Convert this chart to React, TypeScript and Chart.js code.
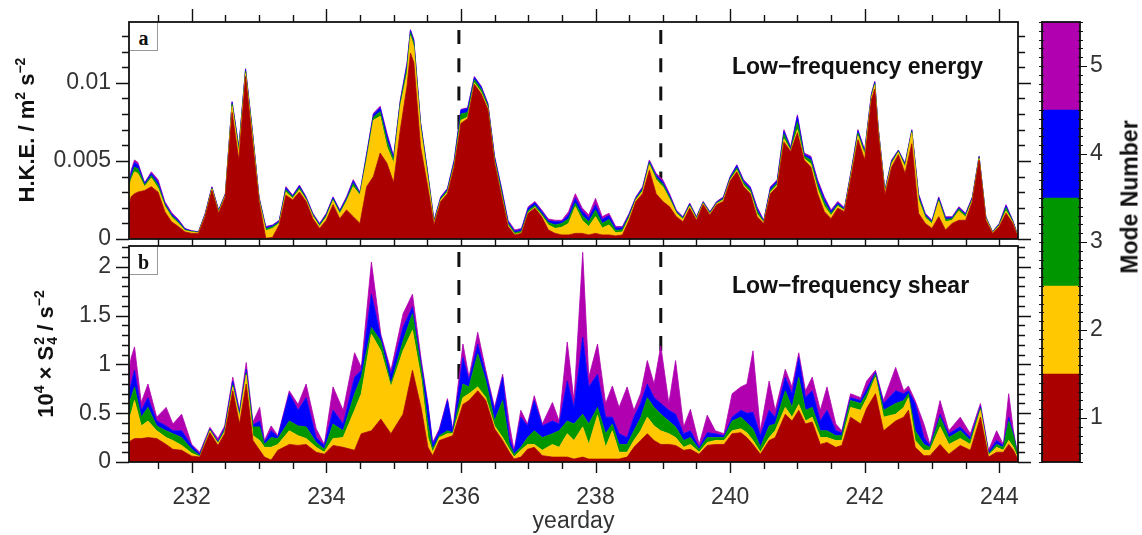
import React, { useEffect, useRef } from "react";
import { Chart, registerables } from "chart.js";

Chart.register(...registerables);

const SANS = '"Liberation Sans", Arial, Helvetica, sans-serif';
const SERIF = '"Liberation Serif", "DejaVu Serif", serif';

// ---------- shared axis data ----------
const X_MIN = 231.068;
const X_MAX = 244.278;
const dayTickValues = [232, 234, 236, 238, 240, 242, 244];
const dayTickLabels = ["232", "234", "236", "238", "240", "242", "244"];
const eventDays = [235.97, 238.97];

const modeNumbers = [1, 2, 3, 4, 5];
const modeLabels = ["1", "2", "3", "4", "5"];
const modeColors = ["#aa0000", "#ffc800", "#009600", "#0000ff", "#b000b0"];

// ---------- panel a: low-frequency energy (cumulative tops, units 1e-3 m2 s-2) ----------
const hkeTickValues = [0, 0.005, 0.01];
const hkeTickLabels = ["0", "0.005", "0.01"];
const HKE_MAX = 0.01389;

const hkeDays = [
  231.06, 231.1, 231.15, 231.2, 231.3, 231.4, 231.5, 231.6, 231.7, 231.8,
  231.9, 232.0, 232.1, 232.2, 232.3, 232.4, 232.5, 232.6, 232.7, 232.8,
  232.9, 233.0, 233.1, 233.2, 233.3, 233.4, 233.5, 233.6, 233.7, 233.8,
  233.9, 234.0, 234.1, 234.2, 234.3, 234.4, 234.5, 234.6, 234.7, 234.8,
  234.9, 235.0, 235.1, 235.2, 235.25, 235.3, 235.4, 235.5, 235.6, 235.7,
  235.8, 235.9, 236.0, 236.1, 236.2, 236.3, 236.4, 236.5, 236.6, 236.7,
  236.8, 236.9, 237.0, 237.1, 237.2, 237.3, 237.4, 237.5, 237.6, 237.7,
  237.8, 237.9, 238.0, 238.1, 238.2, 238.3, 238.4, 238.5, 238.6, 238.7,
  238.8, 238.9, 239.0, 239.1, 239.2, 239.3, 239.4, 239.5, 239.6, 239.7,
  239.8, 239.9, 240.0, 240.1, 240.2, 240.3, 240.4, 240.5, 240.6, 240.7,
  240.8, 240.9, 241.0, 241.1, 241.2, 241.3, 241.4, 241.5, 241.6, 241.7,
  241.8, 241.9, 242.0, 242.1, 242.15, 242.2, 242.3, 242.4, 242.5, 242.6,
  242.7, 242.8, 242.9, 243.0, 243.1, 243.2, 243.3, 243.4, 243.5, 243.6,
  243.7, 243.8, 243.9, 244.0, 244.1, 244.2, 244.28,
];
const hkeTop1 = [
  2.0, 2.7, 2.9, 3.0, 3.1, 3.35, 3.0, 1.75, 1.1, 0.8,
  0.45, 0.36, 0.36, 1.43, 3.1, 1.65, 2.7, 8.1, 5.06, 10.4,
  6.35, 2.4, 0.05, 0.1, 0.9, 2.8, 2.5, 3.0, 2.4, 1.3,
  0.68, 1.2, 2.2, 1.3, 1.86, 1.43, 1.0, 3.35, 4.0, 5.5,
  4.85, 3.6, 7.0, 9.8, 11.9, 11.3, 5.9, 3.5, 0.9, 2.4,
  2.9, 4.6, 7.4, 7.7, 9.9, 9.3, 8.3, 4.85, 2.8, 0.8,
  0.26, 0.36, 1.65, 1.97, 1.43, 0.58, 0.36, 0.26, 0.26, 0.36,
  0.36, 0.26, 0.36, 0.26, 0.26, 0.2, 0.26, 1.2, 2.4, 2.9,
  4.4, 2.9, 2.4, 2.07, 1.43, 1.1, 1.97, 1.2, 2.2, 1.54,
  2.2, 2.4, 3.7, 4.3, 3.35, 2.9, 1.43, 1.0, 2.9, 3.35,
  6.2, 5.6, 6.8, 5.06, 4.6, 2.9, 1.75, 1.3, 1.97, 1.75,
  4.0, 6.35, 5.06, 8.9, 9.6, 6.8, 2.8, 4.6, 5.4, 4.2,
  6.1, 1.65, 1.0, 0.68, 1.43, 0.58, 1.0, 1.2, 1.2, 2.4,
  5.06, 1.2, 0.36, 0.8, 1.65, 1.0, 0.05,
];
const hkeTop2 = [
  3.0, 3.8, 4.3, 4.2, 3.35, 3.9, 3.25, 2.1, 1.4, 1.0,
  0.53, 0.45, 0.4, 1.5, 3.2, 1.72, 2.78, 8.5, 5.5, 10.6,
  6.7, 2.5, 0.53, 0.68, 1.0, 3.0, 2.6, 3.15, 2.5, 1.45,
  0.8, 1.4, 2.45, 1.6, 2.4, 3.35, 2.8, 5.06, 7.6, 7.85,
  5.9, 4.85, 8.5, 10.6, 13.0, 12.3, 7.1, 4.1, 1.0, 2.5,
  3.0, 4.7, 7.6, 7.8, 10.0, 9.4, 8.4, 4.95, 2.9, 0.88,
  0.3, 0.4, 1.7, 2.03, 1.5, 0.9, 0.68, 0.75, 1.0, 2.07,
  1.2, 0.8, 1.43, 0.7, 0.9, 0.4, 0.45, 1.35, 2.5, 3.05,
  4.75, 3.8, 3.35, 2.55, 1.65, 1.25, 2.1, 1.28, 2.27, 1.6,
  2.26, 2.5, 3.78, 4.4, 3.45, 3.0, 1.6, 1.05, 3.0, 3.45,
  6.4, 5.65, 7.0, 5.15, 4.8, 3.2, 2.1, 1.5, 2.1, 1.82,
  4.15, 6.6, 5.4, 9.05, 9.85, 7.0, 2.95, 4.8, 5.55, 4.6,
  6.8, 2.5, 1.35, 0.98, 2.4, 1.1, 1.2, 1.8, 1.4, 2.5,
  5.15, 1.3, 0.4, 0.86, 1.8, 1.07, 0.08,
];
const hkeTop3 = [
  3.15, 4.0, 4.6, 4.5, 3.45, 4.05, 3.45, 2.2, 1.5, 1.1,
  0.58, 0.48, 0.43, 1.55, 3.25, 1.78, 2.83, 8.65, 5.7, 10.75,
  6.85, 2.6, 0.65, 0.78, 1.08, 3.15, 2.68, 3.28, 2.58, 1.53,
  0.88, 1.5, 2.55, 1.7, 2.5, 3.55, 2.88, 5.25, 7.8, 8.15,
  6.3, 5.05, 8.7, 10.95, 13.2, 12.55, 7.3, 4.3, 1.08, 2.58,
  3.1, 4.85, 8.0, 8.1, 10.2, 9.6, 8.55, 5.1, 3.1, 1.0,
  0.4, 0.5, 1.82, 2.15, 1.62, 1.05, 0.9, 1.0, 1.3, 2.3,
  1.5, 1.1, 1.85, 1.0, 1.25, 0.55, 0.6, 1.48, 2.58, 3.15,
  4.88, 3.95, 3.5, 2.68, 1.73, 1.32, 2.18, 1.34, 2.32, 1.66,
  2.31, 2.58, 3.87, 4.55, 3.6, 3.15, 1.8, 1.1, 3.12, 3.58,
  6.7, 5.72, 7.5, 5.3, 5.05, 3.45, 2.35, 1.63, 2.2, 1.88,
  4.25, 6.78, 5.52, 9.15, 9.95, 7.07, 3.03, 4.92, 5.62, 4.7,
  6.88, 2.68, 1.48, 1.07, 2.52, 1.25, 1.3, 1.92, 1.52, 2.58,
  5.22, 1.36, 0.43, 0.92, 2.0, 1.12, 0.1,
];
const hkeTop4 = [
  3.25, 4.25, 4.9, 4.75, 3.55, 4.2, 3.65, 2.3, 1.6, 1.2,
  0.64, 0.51, 0.45, 1.6, 3.3, 1.83, 2.88, 8.75, 5.85, 10.85,
  6.95, 2.65, 0.75, 0.86, 1.15, 3.28, 2.75, 3.4, 2.65, 1.6,
  0.95, 1.6, 2.65, 1.8, 2.62, 3.72, 2.95, 5.42, 7.98, 8.4,
  6.65, 5.22, 8.85, 11.2, 13.35, 12.7, 7.45, 4.42, 1.15, 2.66,
  3.2, 5.0, 8.25, 8.35, 10.35, 9.75, 8.65, 5.25, 3.28, 1.12,
  0.5, 0.62, 1.98, 2.32, 1.78, 1.18, 1.1, 1.12, 1.55, 2.6,
  1.8, 1.35, 2.2, 1.25, 1.5, 0.7, 0.72, 1.58, 2.65, 3.28,
  4.98, 4.08, 3.65, 2.8, 1.8, 1.38, 2.25, 1.4, 2.37, 1.71,
  2.36, 2.65, 3.95, 4.7, 3.72, 3.28, 1.97, 1.16, 3.28, 3.72,
  6.9, 5.82, 7.85, 5.43, 5.22, 3.68, 2.58, 1.77, 2.32, 1.95,
  4.35, 6.93, 5.63, 9.25, 10.05, 7.15, 3.1, 5.0, 5.67, 4.8,
  6.95, 2.82, 1.58, 1.14, 2.63, 1.36, 1.38, 2.0, 1.6, 2.65,
  5.27, 1.4, 0.45, 0.97, 2.13, 1.17, 0.13,
];
const hkeTotal = [
  3.3, 4.4, 5.06, 4.9, 3.6, 4.3, 3.8, 2.4, 1.7, 1.26,
  0.68, 0.53, 0.47, 1.65, 3.35, 1.86, 2.9, 8.8, 5.9, 10.9,
  7.0, 2.7, 0.8, 0.9, 1.2, 3.35, 2.8, 3.45, 2.7, 1.65,
  1.0, 1.65, 2.7, 1.86, 2.7, 3.8, 3.0, 5.5, 8.05, 8.5,
  6.8, 5.3, 8.9, 11.3, 13.4, 12.8, 7.5, 4.5, 1.2, 2.7,
  3.25, 5.06, 8.3, 8.4, 10.4, 9.8, 8.7, 5.3, 3.35, 1.2,
  0.58, 0.68, 2.07, 2.4, 1.86, 1.28, 1.2, 1.2, 1.75, 2.9,
  2.0, 1.54, 2.6, 1.43, 1.65, 0.8, 0.8, 1.65, 2.7, 3.35,
  5.06, 4.2, 3.8, 2.9, 1.86, 1.43, 2.3, 1.43, 2.4, 1.75,
  2.4, 2.7, 4.0, 4.75, 3.8, 3.35, 2.07, 1.2, 3.35, 3.8,
  7.0, 5.9, 7.95, 5.5, 5.3, 3.8, 2.7, 1.86, 2.4, 2.0,
  4.4, 7.0, 5.7, 9.3, 10.1, 7.2, 3.14, 5.06, 5.7, 4.85,
  7.0, 2.9, 1.65, 1.2, 2.7, 1.43, 1.43, 2.07, 1.65, 2.7,
  5.3, 1.43, 0.47, 1.0, 2.2, 1.2, 0.15,
];

// ---------- panel b: low-frequency shear (cumulative tops, units 1e-4 s-2) ----------
const shearTickValues = [0, 0.5, 1, 1.5, 2];
const shearTickLabels = ["0", "0.5", "1", "1.5", "2"];
const SHEAR_MAX = 2.215;

const shearDays = [
  231.06, 231.1, 231.15, 231.25, 231.35, 231.48, 231.62, 231.72, 231.85, 232.0,
  232.12, 232.27, 232.39, 232.49, 232.61, 232.71, 232.81, 232.91, 233.01, 233.08,
  233.18, 233.28, 233.45, 233.58, 233.7, 233.85, 233.97, 234.1, 234.25, 234.42,
  234.52, 234.67, 234.81, 234.96, 235.14, 235.28, 235.41, 235.51, 235.58, 235.68,
  235.8, 235.88, 236.03, 236.12, 236.25, 236.37, 236.5, 236.62, 236.72, 236.79,
  236.89, 236.99, 237.09, 237.21, 237.36, 237.46, 237.58, 237.68, 237.81, 237.9,
  238.03, 238.15, 238.25, 238.35, 238.47, 238.57, 238.67, 238.77, 238.87, 238.97,
  239.09, 239.19, 239.31, 239.41, 239.54, 239.66, 239.78, 239.91, 240.03, 240.16,
  240.25, 240.34, 240.45, 240.58, 240.67, 240.82, 240.92, 241.02, 241.12, 241.22,
  241.34, 241.44, 241.57, 241.66, 241.79, 241.94, 242.03, 242.16, 242.28, 242.46,
  242.58, 242.65, 242.75, 242.88, 242.97, 243.12, 243.25, 243.42, 243.57, 243.72,
  243.84, 243.96, 244.06, 244.14, 244.21, 244.28,
];
const shearTop1 = [
  0.2, 0.22, 0.24, 0.24, 0.25, 0.24, 0.18, 0.13, 0.12, 0.06,
  0.05, 0.3, 0.17, 0.29, 0.73, 0.39, 0.8, 0.22, 0.12, 0.05,
  0.02, 0.12, 0.18, 0.17, 0.18, 0.1, 0.08, 0.17, 0.15, 0.12,
  0.29, 0.32, 0.44, 0.29, 0.49, 0.94, 0.55, 0.15, 0.065, 0.22,
  0.25, 0.27, 0.59, 0.63, 0.73, 0.63, 0.34, 0.22, 0.1, 0.03,
  0.05, 0.13, 0.15, 0.065, 0.05, 0.05, 0.05, 0.03, 0.05, 0.03,
  0.03, 0.03, 0.03, 0.03, 0.05, 0.15, 0.22, 0.29, 0.22, 0.18,
  0.18, 0.17, 0.12, 0.13, 0.08, 0.17, 0.18, 0.18, 0.29, 0.3,
  0.25, 0.18, 0.08, 0.22, 0.25, 0.49, 0.42, 0.53, 0.39, 0.41,
  0.18, 0.2, 0.15, 0.17, 0.46, 0.39, 0.55, 0.7, 0.32, 0.42,
  0.46, 0.53, 0.15, 0.065, 0.065, 0.18, 0.08, 0.17, 0.12, 0.46,
  0.05, 0.1, 0.1, 0.18, 0.12, 0.02,
];
const shearTop2 = [
  0.45, 0.5, 0.63, 0.37, 0.42, 0.32, 0.25, 0.22, 0.17, 0.09,
  0.055, 0.32, 0.19, 0.31, 0.77, 0.46, 0.89, 0.27, 0.22, 0.15,
  0.15, 0.18, 0.32, 0.27, 0.24, 0.15, 0.1, 0.24, 0.25, 0.53,
  0.7, 1.31, 1.14, 0.77, 1.14, 1.35, 0.85, 0.25, 0.1, 0.25,
  0.29, 0.29, 0.66, 0.7, 0.77, 0.66, 0.37, 0.25, 0.13, 0.05,
  0.12, 0.18, 0.18, 0.12, 0.18, 0.15, 0.29, 0.22, 0.36, 0.18,
  0.48, 0.15, 0.32, 0.1, 0.1, 0.22, 0.32, 0.46, 0.37, 0.32,
  0.29, 0.25, 0.15, 0.18, 0.1, 0.2, 0.22, 0.22, 0.32, 0.34,
  0.3, 0.22, 0.1, 0.25, 0.32, 0.56, 0.46, 0.59, 0.42, 0.46,
  0.25, 0.25, 0.22, 0.22, 0.56, 0.53, 0.65, 0.87, 0.46, 0.49,
  0.56, 0.66, 0.22, 0.12, 0.12, 0.36, 0.18, 0.24, 0.18, 0.53,
  0.07, 0.15, 0.12, 0.22, 0.15, 0.03,
];
const shearTop3 = [
  0.6, 0.66, 0.77, 0.46, 0.56, 0.37, 0.32, 0.29, 0.25, 0.13,
  0.065, 0.33, 0.2, 0.33, 0.79, 0.48, 0.91, 0.36, 0.36, 0.18,
  0.25, 0.24, 0.42, 0.37, 0.36, 0.2, 0.13, 0.39, 0.32, 0.7,
  0.87, 1.38, 1.24, 0.8, 1.24, 1.52, 0.95, 0.39, 0.13, 0.27,
  0.32, 0.3, 0.8, 0.77, 1.11, 0.83, 0.42, 0.63, 0.18, 0.08,
  0.15, 0.25, 0.32, 0.25, 0.29, 0.32, 0.42, 0.39, 0.49, 0.39,
  0.56, 0.29, 0.39, 0.18, 0.18, 0.32, 0.45, 0.66, 0.56, 0.49,
  0.42, 0.36, 0.22, 0.25, 0.13, 0.25, 0.25, 0.25, 0.42, 0.46,
  0.4, 0.34, 0.15, 0.37, 0.39, 0.73, 0.56, 0.87, 0.53, 0.56,
  0.32, 0.32, 0.27, 0.27, 0.63, 0.6, 0.7, 0.9, 0.53, 0.6,
  0.63, 0.7, 0.32, 0.18, 0.15, 0.46, 0.25, 0.32, 0.22, 0.55,
  0.08, 0.18, 0.15, 0.42, 0.27, 0.04,
];
const shearTop4 = [
  0.72, 0.8, 0.94, 0.53, 0.66, 0.42, 0.37, 0.32, 0.32, 0.17,
  0.08, 0.34, 0.21, 0.35, 0.83, 0.51, 0.95, 0.38, 0.42, 0.2,
  0.32, 0.26, 0.7, 0.53, 0.66, 0.25, 0.17, 0.53, 0.39, 0.87,
  0.94, 1.72, 1.28, 0.9, 1.38, 1.59, 1.0, 0.58, 0.18, 0.32,
  0.63, 0.31, 1.07, 0.84, 1.21, 0.9, 0.53, 0.87, 0.25, 0.1,
  0.46, 0.37, 0.63, 0.37, 0.42, 0.39, 0.83, 0.56, 1.28, 0.77,
  0.9, 0.46, 0.46, 0.29, 0.25, 0.46, 0.6, 0.8, 0.66, 0.6,
  0.53, 0.49, 0.29, 0.32, 0.15, 0.3, 0.29, 0.27, 0.46, 0.53,
  0.5, 0.51, 0.27, 0.53, 0.46, 0.87, 0.7, 1.07, 0.66, 0.73,
  0.42, 0.53, 0.32, 0.3, 0.66, 0.63, 0.75, 0.92, 0.6, 0.73,
  0.7, 0.73, 0.6, 0.25, 0.17, 0.49, 0.29, 0.36, 0.25, 0.57,
  0.1, 0.22, 0.17, 0.46, 0.29, 0.045,
];
const shearTotal = [
  0.9, 1.07, 1.18, 0.61, 0.8, 0.46, 0.56, 0.39, 0.49, 0.18,
  0.1, 0.355, 0.24, 0.37, 0.87, 0.53, 1.02, 0.41, 0.56, 0.22,
  0.37, 0.27, 0.73, 0.59, 0.8, 0.34, 0.18, 0.77, 0.53, 1.12,
  0.97, 2.05, 1.31, 0.94, 1.52, 1.72, 1.05, 0.6, 0.2, 0.34,
  0.65, 0.33, 1.21, 0.87, 1.33, 0.94, 0.56, 0.9, 0.39, 0.12,
  0.53, 0.39, 0.68, 0.39, 0.61, 0.42, 1.23, 0.63, 2.15, 0.87,
  1.21, 0.6, 0.78, 0.56, 0.77, 0.53, 0.7, 1.04, 0.8, 1.19,
  0.6, 1.04, 0.36, 0.54, 0.18, 0.48, 0.32, 0.29, 0.7, 0.77,
  0.8, 1.14, 0.32, 0.83, 0.53, 0.95, 0.77, 1.12, 0.73, 0.87,
  0.53, 0.77, 0.39, 0.32, 0.7, 0.66, 0.83, 0.94, 0.63, 0.97,
  0.73, 0.78, 0.63, 0.39, 0.18, 0.63, 0.32, 0.46, 0.29, 0.6,
  0.12, 0.32, 0.18, 0.7, 0.32, 0.05,
];

// ---------- helpers ----------
function layerDatasets(days: number[], tops: number[][], factor: number) {
  return tops.map((vals, i) => ({
    label: "Mode " + modeLabels[i],
    data: days.map((d, j) => ({ x: d, y: vals[j] * factor })),
    backgroundColor: modeColors[i],
    borderColor: modeColors[i],
    borderWidth: 0.8,
    pointRadius: 0,
    tension: 0,
    fill: i === 0 ? "origin" : "-1",
  }));
}

function zeroPad(s: any) {
  s.paddingTop = 0;
  s.paddingBottom = 0;
  s.paddingLeft = 0;
  s.paddingRight = 0;
}

function yAxis(max: number, values: number[], labels: string[]) {
  return {
    type: "linear",
    position: "left",
    min: 0,
    max,
    afterFit: (s: any) => {
      s.width = 129;
      zeroPad(s);
    },
    afterBuildTicks: (s: any) => {
      s.ticks = values.map((value) => ({ value }));
    },
    grid: { display: false, drawTicks: false },
    border: { display: false },
    ticks: {
      padding: 18,
      color: "#333",
      font: { size: 23, family: SANS },
      callback: (_v: any, i: number) => labels[i],
    },
  };
}

function eventLinePlugin(startOffset: number, dash: number, gap: number) {
  return {
    id: "eventLines",
    beforeDatasetsDraw(chart: any) {
      const { ctx, chartArea: a, scales } = chart;
      ctx.save();
      ctx.strokeStyle = "#111";
      ctx.lineWidth = 3;
      ctx.setLineDash([dash, gap]);
      ctx.beginPath();
      for (const d of eventDays) {
        const px = scales.x.getPixelForValue(d);
        ctx.moveTo(px, a.top + startOffset);
        ctx.lineTo(px, a.bottom);
      }
      ctx.stroke();
      ctx.restore();
    },
  };
}

function framePlugin(o: { yMinor: number; yMajor: number; yMax: number; top: number[]; bottom: number[] }) {
  return {
    id: "frameTicks",
    afterDraw(chart: any) {
      const { ctx, chartArea: a, scales } = chart;
      const xs = scales.x;
      const ys = scales.y;
      ctx.save();
      ctx.strokeStyle = "#111";
      ctx.lineWidth = 1.4;
      ctx.beginPath();
      for (let k = 0; ; k++) {
        const d = 231.5 + 0.5 * k;
        if (d > X_MAX) break;
        const px = Math.round(xs.getPixelForValue(d)) + 0.5;
        const major = k % 4 === 1;
        const t = major ? o.top[1] : o.top[0];
        const b = major ? o.bottom[1] : o.bottom[0];
        if (t > 0) {
          ctx.moveTo(px, a.top);
          ctx.lineTo(px, a.top - t);
        }
        if (b > 0) {
          ctx.moveTo(px, a.bottom);
          ctx.lineTo(px, a.bottom + b);
        }
      }
      const n = Math.floor(o.yMax / o.yMinor + 1e-6);
      const ratio = Math.round(o.yMajor / o.yMinor);
      for (let k = 0; k <= n; k++) {
        const py = Math.round(ys.getPixelForValue(k * o.yMinor)) + 0.5;
        const len = k % ratio === 0 ? 13 : 7;
        ctx.moveTo(a.left, py);
        ctx.lineTo(a.left - len, py);
        ctx.moveTo(a.right, py);
        ctx.lineTo(a.right + len, py);
      }
      ctx.stroke();
      ctx.lineWidth = 1.8;
      ctx.strokeRect(a.left, a.top, a.right - a.left, a.bottom - a.top);
      ctx.restore();
    },
  };
}

const colorbarPlugin = {
  id: "colorbarTicks",
  afterDraw(chart: any) {
    const { ctx, chartArea: a, scales } = chart;
    const ys = scales.y;
    ctx.save();
    ctx.strokeStyle = "#111";
    ctx.lineWidth = 1.2;
    ctx.beginPath();
    for (let k = 0; k <= 50; k++) {
      const py = Math.round(ys.getPixelForValue(0.5 + k * 0.1)) + 0.5;
      ctx.moveTo(a.left - 3, py);
      ctx.lineTo(a.left + 2, py);
      ctx.moveTo(a.right - 2, py);
      ctx.lineTo(a.right + 3, py);
    }
    for (const m of modeNumbers) {
      const py = Math.round(ys.getPixelForValue(m)) + 0.5;
      ctx.moveTo(a.right - 2, py);
      ctx.lineTo(a.right + 7, py);
    }
    ctx.stroke();
    ctx.lineWidth = 1.8;
    ctx.strokeRect(a.left, a.top, a.right - a.left, a.bottom - a.top);
    ctx.restore();
  },
};

const common = {
  responsive: false,
  animation: false,
  events: [],
  plugins: { legend: { display: false }, tooltip: { enabled: false } },
};

function makePanelA(canvas: HTMLCanvasElement) {
  return new Chart(canvas, {
    type: "line",
    data: { datasets: layerDatasets(hkeDays, [hkeTop1, hkeTop2, hkeTop3, hkeTop4, hkeTotal], 0.001) as any },
    options: {
      ...common,
      layout: { padding: { left: 0, right: 17, top: 22, bottom: 21 } },
      scales: {
        x: { type: "linear", min: X_MIN, max: X_MAX, display: false },
        y: yAxis(HKE_MAX, hkeTickValues, hkeTickLabels),
      },
    } as any,
    plugins: [eventLinePlugin(8, 14, 14.3), framePlugin({ yMinor: 0.001, yMajor: 0.005, yMax: HKE_MAX, top: [7, 13], bottom: [4, 4] })],
  });
}

function makePanelB(canvas: HTMLCanvasElement) {
  return new Chart(canvas, {
    type: "line",
    data: { datasets: layerDatasets(shearDays, [shearTop1, shearTop2, shearTop3, shearTop4, shearTotal], 1) as any },
    options: {
      ...common,
      layout: { padding: { left: 0, right: 17, top: 3, bottom: 0 } },
      scales: {
        x: {
          type: "linear",
          position: "bottom",
          min: X_MIN,
          max: X_MAX,
          afterFit: (s: any) => {
            s.height = 73;
            zeroPad(s);
          },
          afterBuildTicks: (s: any) => {
            s.ticks = dayTickValues.map((value) => ({ value }));
          },
          grid: { display: false, drawTicks: false },
          border: { display: false },
          ticks: {
            autoSkip: false,
            maxRotation: 0,
            padding: 22,
            color: "#333",
            font: { size: 23, family: SANS },
            callback: (_v: any, i: number) => dayTickLabels[i],
          },
          title: {
            display: true,
            text: "yearday",
            color: "#333",
            font: { size: 23, family: SANS },
            padding: { top: 0, bottom: 0 },
          },
        },
        y: yAxis(SHEAR_MAX, shearTickValues, shearTickLabels),
      },
    } as any,
    plugins: [eventLinePlugin(6, 15, 13), framePlugin({ yMinor: 0.1, yMajor: 0.5, yMax: SHEAR_MAX, top: [3, 3], bottom: [7, 11] })],
  });
}

function makeColorbar(canvas: HTMLCanvasElement) {
  return new Chart(canvas, {
    type: "bar",
    data: {
      labels: [""],
      datasets: modeNumbers.map((m, i) => ({
        label: "Mode " + modeLabels[i],
        data: [[m - 0.5, m + 0.5]],
        backgroundColor: modeColors[i],
        borderWidth: 0,
        grouped: false,
        barPercentage: 1,
        categoryPercentage: 1,
      })) as any,
    },
    options: {
      ...common,
      layout: { padding: { left: 7, right: 0, top: 22, bottom: 73 } },
      scales: {
        x: { display: false },
        y: {
          type: "linear",
          position: "right",
          min: 0.5,
          max: 5.5,
          afterFit: (s: any) => {
            s.width = 62;
            zeroPad(s);
          },
          afterBuildTicks: (s: any) => {
            s.ticks = modeNumbers.map((value) => ({ value }));
          },
          grid: { display: false, drawTicks: false },
          border: { display: false },
          ticks: {
            padding: 10,
            color: "#333",
            font: { size: 23, family: SANS },
            callback: (_v: any, i: number) => modeLabels[i],
          },
        },
      },
    } as any,
    plugins: [colorbarPlugin],
  });
}

const supStyle: React.CSSProperties = { fontSize: 14, position: "relative", top: -9 };

function StackedSubSup({ sub, sup }: { sub: string; sup: string }) {
  return (
    <span style={{ display: "inline-block", position: "relative", width: 9, height: 22 }}>
      <span style={{ position: "absolute", left: 1, top: 1, fontSize: 14, lineHeight: "14px" }}>{sup}</span>
      <span style={{ position: "absolute", left: 1, top: 14, fontSize: 14, lineHeight: "14px" }}>{sub}</span>
    </span>
  );
}

const titleBase: React.CSSProperties = {
  position: "absolute",
  transform: "translate(-50%, -50%) rotate(-90deg)",
  whiteSpace: "nowrap",
  fontFamily: SANS,
  fontWeight: "bold",
  fontSize: 22,
  lineHeight: "22px",
  color: "#111",
};

const panelTag: React.CSSProperties = {
  position: "absolute",
  width: 27,
  height: 27,
  borderRight: "1px solid #999",
  borderBottom: "1px solid #999",
  background: "#fff",
  fontFamily: SERIF,
  fontWeight: "bold",
  fontSize: 20,
  lineHeight: "30px",
  textAlign: "center",
  color: "#111",
  overflow: "hidden",
};

const panelTitle: React.CSSProperties = {
  position: "absolute",
  whiteSpace: "nowrap",
  fontFamily: SANS,
  fontWeight: "bold",
  fontSize: 23,
  lineHeight: "23px",
  color: "#111",
};

export default function App() {
  const aRef = useRef<HTMLCanvasElement>(null);
  const bRef = useRef<HTMLCanvasElement>(null);
  const cRef = useRef<HTMLCanvasElement>(null);

  useEffect(() => {
    Chart.defaults.font.family = SANS;
    const charts = [
      makePanelA(aRef.current as HTMLCanvasElement),
      makePanelB(bRef.current as HTMLCanvasElement),
      makeColorbar(cRef.current as HTMLCanvasElement),
    ];
    return () => charts.forEach((c) => c.destroy());
  }, []);

  return (
    <div style={{ position: "absolute", left: 0, top: 0, width: 1142, height: 535, background: "#fff", overflow: "hidden" }}>
      <canvas ref={bRef} width={1035} height={292} style={{ position: "absolute", left: 0, top: 243 }} />
      <canvas ref={aRef} width={1035} height={260} style={{ position: "absolute", left: 0, top: 0 }} />
      <canvas ref={cRef} width={107} height={535} style={{ position: "absolute", left: 1035, top: 0 }} />

      <div style={{ ...panelTag, left: 130, top: 23 }}>a</div>
      <div style={{ ...panelTag, left: 130, top: 247 }}>b</div>

      <div style={{ ...panelTitle, left: 732, top: 55 }}>Low−frequency energy</div>
      <div style={{ ...panelTitle, left: 732, top: 274 }}>Low−frequency shear</div>

      <div style={{ ...titleBase, left: 28, top: 130 }}>
        H.K.E. / m<span style={supStyle}>2</span> s<span style={supStyle}>−2</span>
      </div>
      <div style={{ ...titleBase, left: 45, top: 354 }}>
        10<span style={supStyle}>4</span> × S<StackedSubSup sub="4" sup="2" /> / s<span style={supStyle}>−2</span>
      </div>
      <div style={{ ...titleBase, left: 1130, top: 197, fontSize: 23, lineHeight: "23px" }}>Mode Number</div>
    </div>
  );
}
